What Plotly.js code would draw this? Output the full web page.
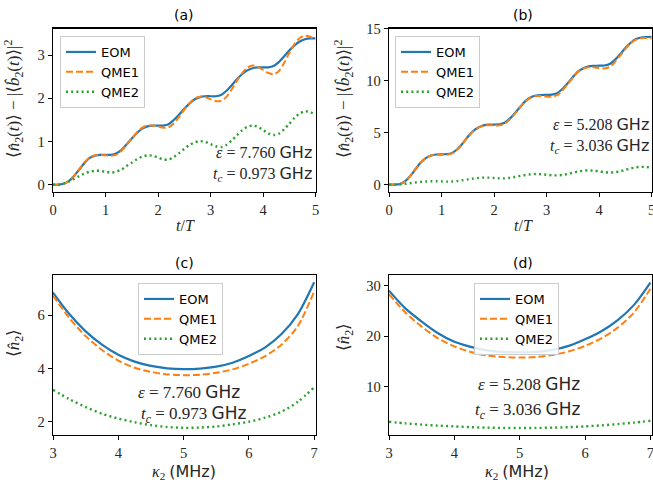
<!DOCTYPE html>
<html>
<head>
<meta charset="utf-8">
<script src="https://cdn.plot.ly/plotly-3.0.1.min.js"></script>
<style>html,body{margin:0;padding:0;background:#fff;}#chart{width:653px;height:485px;}</style>
</head>
<body>
<div id="chart"></div>
<script>
// ---- data ----
const tT = [0,0.1,0.2,0.3,0.4,0.5,0.6,0.7,0.8,0.9,1.0,1.1,1.2,1.3,1.4,1.5,1.6,1.7,1.8,1.9,2.0,2.1,2.2,2.3,2.4,2.5,2.6,2.7,2.8,2.9,3.0,3.1,3.2,3.3,3.4,3.5,3.6,3.7,3.8,3.9,4.0,4.1,4.2,4.3,4.4,4.5,4.6,4.7,4.8,4.9,5.0];

const aEOM  = [0,0,0.02,0.08,0.2,0.35,0.5,0.62,0.67,0.69,0.69,0.69,0.72,0.8,0.93,1.07,1.2,1.3,1.35,1.37,1.37,1.37,1.4,1.5,1.62,1.76,1.88,1.98,2.03,2.05,2.05,2.05,2.08,2.17,2.3,2.44,2.56,2.65,2.7,2.72,2.72,2.72,2.75,2.84,2.97,3.11,3.23,3.32,3.37,3.39,3.39];
const aQME1 = [0,0,0.02,0.08,0.2,0.36,0.52,0.63,0.68,0.69,0.68,0.67,0.69,0.78,0.92,1.07,1.21,1.32,1.37,1.37,1.35,1.32,1.33,1.42,1.57,1.74,1.89,2.0,2.04,2.03,1.98,1.94,1.94,2.03,2.2,2.4,2.58,2.71,2.76,2.73,2.66,2.59,2.56,2.63,2.82,3.05,3.26,3.4,3.45,3.43,3.36];
const aQME2 = [0,0,0.02,0.07,0.13,0.2,0.26,0.3,0.32,0.32,0.3,0.28,0.3,0.35,0.43,0.51,0.59,0.65,0.68,0.67,0.63,0.59,0.58,0.64,0.73,0.83,0.92,0.98,1.01,0.99,0.94,0.89,0.87,0.92,1.02,1.14,1.26,1.34,1.37,1.34,1.27,1.19,1.15,1.18,1.28,1.41,1.55,1.65,1.7,1.68,1.62];

const bEOM  = [0,0,0.05,0.3,0.8,1.45,2.1,2.55,2.8,2.9,2.92,2.93,3.05,3.4,3.95,4.6,5.15,5.5,5.7,5.77,5.78,5.8,5.95,6.35,6.9,7.5,8.05,8.4,8.57,8.62,8.63,8.65,8.8,9.2,9.75,10.35,10.9,11.2,11.38,11.43,11.44,11.46,11.6,12.0,12.55,13.15,13.65,14.0,14.15,14.2,14.22];
const bQME1 = [0,0,0.05,0.3,0.8,1.45,2.1,2.55,2.8,2.88,2.88,2.88,3.0,3.38,3.93,4.58,5.12,5.48,5.68,5.72,5.7,5.7,5.85,6.28,6.85,7.47,8.02,8.37,8.52,8.52,8.47,8.45,8.6,9.05,9.65,10.3,10.85,11.18,11.3,11.28,11.2,11.17,11.32,11.8,12.42,13.05,13.6,13.95,14.08,14.1,14.12];
const bQME2 = [0,0,0.02,0.07,0.13,0.2,0.26,0.3,0.32,0.32,0.31,0.29,0.3,0.35,0.42,0.5,0.58,0.64,0.67,0.67,0.64,0.6,0.6,0.65,0.74,0.84,0.93,0.99,1.02,1.0,0.95,0.9,0.89,0.93,1.03,1.15,1.26,1.34,1.37,1.34,1.28,1.2,1.16,1.19,1.29,1.42,1.56,1.66,1.71,1.69,1.63];

const kappa = [3,3.25,3.5,3.75,4,4.25,4.5,4.75,5,5.25,5.5,5.75,6,6.25,6.5,6.75,7];
const cEOM  = [6.86,6.05,5.4,4.9,4.52,4.26,4.1,4.01,3.98,4.0,4.07,4.22,4.47,4.8,5.3,6.05,7.25];
const cQME1 = [6.75,5.9,5.22,4.7,4.3,4.03,3.87,3.78,3.75,3.77,3.84,3.97,4.18,4.47,4.9,5.6,6.9];
const cQME2 = [3.2,2.85,2.55,2.3,2.12,1.98,1.87,1.8,1.77,1.78,1.82,1.9,2.0,2.15,2.38,2.75,3.3];

const dEOM  = [29.0,25.5,22.9,20.6,18.9,17.9,17.2,16.9,16.8,16.9,17.3,18.1,19.4,21.0,23.2,26.2,30.6];
const dQME1 = [28.3,24.7,21.9,19.6,18.0,16.9,16.2,15.9,15.8,15.9,16.3,17.0,18.1,19.6,21.7,24.7,29.4];
const dQME2 = [3.1,2.8,2.55,2.35,2.2,2.05,1.95,1.9,1.88,1.9,1.95,2.05,2.2,2.4,2.65,2.95,3.3];

const names = ['EOM','QME1','QME2'];
const panelLabels = ['(a)','(b)','(c)','(d)'];
const paramEps = ['7.760','5.208','7.760','5.208'];
const paramTc  = ['0.973','3.036','0.973','3.036'];

// ---- styles ----
const W = 653, H = 485;
const colors = ['#1f77b4','#ff7f0e','#2ca02c'];
const dashes = ['solid','7px,3px','2px,3.2px'];
const widths = [2.2,2,2.4];
const serif = 'Liberation Serif, DejaVu Serif, serif';
const sans = 'DejaVu Sans, Liberation Sans, sans-serif';

const series = [
  {x: tT, ys: [aEOM,aQME1,aQME2], xa:'x', ya:'y', lg:'legend'},
  {x: tT, ys: [bEOM,bQME1,bQME2], xa:'x2', ya:'y2', lg:'legend2'},
  {x: kappa, ys: [cEOM,cQME1,cQME2], xa:'x3', ya:'y3', lg:'legend3'},
  {x: kappa, ys: [dEOM,dQME1,dQME2], xa:'x4', ya:'y4', lg:'legend4'}
];
const traces = [];
series.forEach(function(s){
  s.ys.forEach(function(yv, i){
    traces.push({
      x: s.x, y: yv, type:'scatter', mode:'lines', name: names[i],
      xaxis: s.xa, yaxis: s.ya, legend: s.lg,
      line: {color: colors[i], width: widths[i], dash: dashes[i], shape:'spline', smoothing: 0.8}
    });
  });
});

const px = v => v / W;
const py = v => 1 - v / H;

function axis(domain, range, dtick, anchor) {
  return {
    domain: domain, range: range, dtick: dtick, anchor: anchor, tick0: 0,
    showgrid:false, zeroline:false, showline:true, linecolor:'#000', linewidth:1.3,
    mirror:true, ticks:'outside', ticklen:4, tickwidth:1, tickcolor:'#000',
    ticklabeloverflow:'allow',
    tickfont:{family: serif, size: 14.5, color:'#262626'}, fixedrange:true
  };
}
const xL = [px(53), px(315.5)], xR = [px(389), px(651.7)];
const yT = [py(192), py(28.5)], yB = [py(435), py(275)];

function legend(xp, yp) {
  return {x: px(xp), y: py(yp), xanchor:'left', yanchor:'top',
    bgcolor:'rgba(255,255,255,0.85)', bordercolor:'#cccccc', borderwidth:1,
    font:{family: sans, size: 13, color:'#000'}, itemwidth:30, tracegroupgap:0};
}

const ann = [];
const titlePos = [[184,15],[523,15],[184,263],[523,263]];
titlePos.forEach(function(p, i){
  ann.push({xref:'paper', yref:'paper', x: px(p[0]), y: py(p[1]), text: panelLabels[i], showarrow:false,
    font:{family: sans, size: 14, color:'#000'}, xanchor:'center', yanchor:'middle'});
});
const G = '<span style="font-family:DejaVu Sans">GHz</span>';
function epsTxt(i){ return '<i>ε</i> = ' + paramEps[i] + ' ' + G; }
function tcTxt(i){ return '<i>t<sub>c</sub></i> = ' + paramTc[i] + ' ' + G; }
// (a),(b): two stacked lines, right aligned, in one text block
[[313,163],[650,135]].forEach(function(p, i){
  ann.push({xref:'paper', yref:'paper', x: px(p[0]), y: py(p[1]), xanchor:'right', yanchor:'middle', align:'right',
    showarrow:false, borderpad:0, text: epsTxt(i) + '<br>' + tcTxt(i),
    font:{family: serif, size: 16, color:'#262626'}});
});
// (c),(d): centred lines
[[189,392,194,414,2],[529,384,528,410,3]].forEach(function(p){
  const i = p[4];
  ann.push({xref:'paper', yref:'paper', x: px(p[0]), y: py(p[1]), xanchor:'center', yanchor:'middle', showarrow:false,
    borderpad:0, text: epsTxt(i), font:{family: serif, size: 17, color:'#262626'}});
  ann.push({xref:'paper', yref:'paper', x: px(p[2]), y: py(p[3]), xanchor:'center', yanchor:'middle', showarrow:false,
    borderpad:0, text: tcTxt(i), font:{family: serif, size: 17, color:'#262626'}});
});
// axis titles
const yTop = '⟨<i>n̂</i><sub>2</sub>(<i>t</i>)⟩ − |⟨<i>b̂</i><sub>2</sub>(<i>t</i>)⟩|<sup>2</sup>';
const yBot = '⟨<i>n̂</i><sub>2</sub>⟩';
const xTop = '<i>t</i>/<i>T</i>';
const xBot = '<i>κ</i><sub>2</sub> <span style="font-family:DejaVu Sans">(MHz)</span>';
[[14,99,yTop],[344,99,yTop],[15,343,yBot],[345,337,yBot]].forEach(function(p){
  ann.push({xref:'paper', yref:'paper', x: px(p[0]), y: py(p[1]), text: p[2], textangle:-90, showarrow:false,
    xanchor:'center', yanchor:'middle', font:{family: serif, size: 17, color:'#262626'}});
});
[[185,225,xTop],[523,225,xTop],[184,472,xBot],[517,472,xBot]].forEach(function(p){
  ann.push({xref:'paper', yref:'paper', x: px(p[0]), y: py(p[1]), text: p[2], showarrow:false, borderpad:0,
    xanchor:'center', yanchor:'middle', font:{family: serif, size: 16, color:'#262626'}});
});

const layout = {
  width: W, height: H, autosize:false, showlegend:true,
  margin:{l:0,r:0,t:0,b:0}, paper_bgcolor:'#fff', plot_bgcolor:'#fff',
  xaxis: axis(xL, [0,5], 1, 'y'),
  yaxis: axis(yT, [-0.17,3.62], 1, 'x'),
  xaxis2: axis(xR, [0,5], 1, 'y2'),
  yaxis2: axis(yT, [-0.71,15.02], 5, 'x2'),
  xaxis3: axis(xL, [3,7.02], 1, 'y3'),
  yaxis3: axis(yB, [1.5,7.52], 2, 'x3'),
  xaxis4: axis(xR, [3,7.02], 1, 'y4'),
  yaxis4: axis(yB, [0.5,32.1], 10, 'x4'),
  legend: legend(60,36), legend2: legend(395,36), legend3: legend(138,283), legend4: legend(474,283),
  annotations: ann
};
Plotly.newPlot('chart', traces, layout, {staticPlot:true, displayModeBar:false});
</script>
</body>
</html>
